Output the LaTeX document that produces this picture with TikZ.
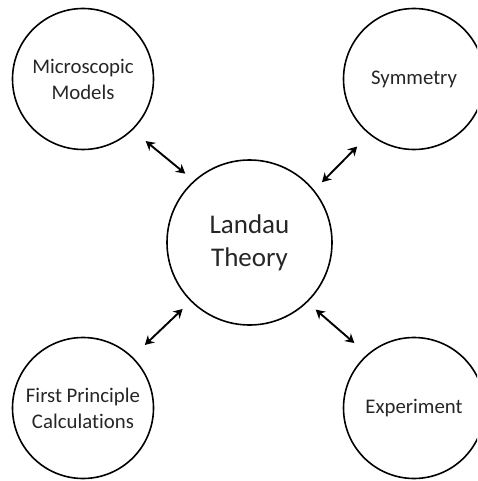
\documentclass[tikz,border=0pt]{standalone}
\usepackage{fontspec}
\setmainfont{Carlito}[Ligatures=NoCommon]
\usetikzlibrary{arrows.meta}

\begin{document}
\begin{tikzpicture}[x=1pt, y=-1pt]
\tikzset{
  topic/.style={circle, draw, line width=1.6pt, minimum size=141pt, inner sep=0pt, align=center, text=black!85, font=\fontsize{20.8}{26}\selectfont},
  link/.style={line width=1.9pt, {Stealth[length=9pt,width=10pt]}-{Stealth[length=9pt,width=10pt]}, shorten <=17pt, shorten >=11pt}
}
\useasboundingbox (0,0) rectangle (477,481);
\clip (0,0) rectangle (477,481);

\node[topic] (micro) at (83,79) {Microscopic\\Models};
\node[topic] (sym) at (414,79) {Symmetry};
\node[topic, minimum size=165pt, font=\fontsize{27}{33}\selectfont] (landau) at (249.5,242.5) {Landau\\Theory};
\node[topic] (first) at (83,408) {First Principle\\Calcula\kern0pt tions};
\node[topic] (exp) at (414,408) {Experiment};

\draw[link] (micro.-46) -- (landau.132);
\draw[link] (sym.231) -- (landau.39);
\draw[link] (first.46) -- (landau.225);
\draw[link] (exp.131) -- (landau.-46);

\end{tikzpicture}
\end{document}
